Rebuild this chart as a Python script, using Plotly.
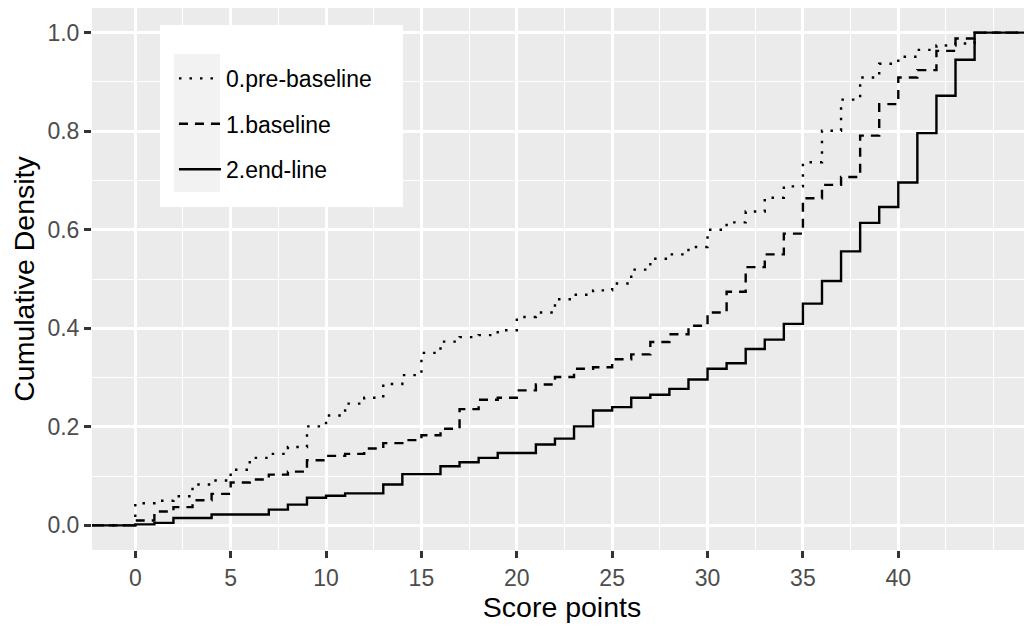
import plotly.graph_objects as go

# ---------------- data ----------------
pre_x = list(range(0, 45))
pre_y = [0.045, 0.050, 0.059, 0.083, 0.091, 0.113, 0.137, 0.145, 0.159, 0.201,
         0.223, 0.247, 0.259, 0.287, 0.305, 0.350, 0.373, 0.382, 0.386, 0.396,
         0.423, 0.432, 0.459, 0.468, 0.477, 0.491, 0.519, 0.541, 0.550, 0.565,
         0.600, 0.615, 0.637, 0.665, 0.688, 0.737, 0.801, 0.864, 0.909, 0.937,
         0.951, 0.965, 0.974, 0.978, 1.000]

base_x = list(range(0, 45))
base_y = [0.010, 0.028, 0.037, 0.051, 0.064, 0.087, 0.093, 0.103, 0.109, 0.132,
          0.141, 0.145, 0.156, 0.167, 0.173, 0.183, 0.196, 0.236, 0.255, 0.259,
          0.274, 0.286, 0.301, 0.318, 0.321, 0.337, 0.347, 0.372, 0.388, 0.405,
          0.432, 0.474, 0.524, 0.550, 0.592, 0.664, 0.691, 0.707, 0.791, 0.855,
          0.909, 0.924, 0.963, 0.988, 1.000]

end_x = [0, 1, 2, 4, 7, 8, 9, 10, 11, 13, 14, 16, 17, 18, 19, 21, 22, 23, 24, 25,
         26, 27, 28, 29, 30, 31, 32, 33, 34, 35, 36, 37, 38, 39, 40, 41, 42, 43, 44]
end_y = [0.002, 0.005, 0.015, 0.022, 0.032, 0.042, 0.056, 0.060, 0.065, 0.083,
         0.104, 0.120, 0.128, 0.137, 0.147, 0.164, 0.176, 0.201, 0.233, 0.240,
         0.259, 0.265, 0.277, 0.296, 0.318, 0.329, 0.358, 0.377, 0.409, 0.450,
         0.496, 0.556, 0.614, 0.646, 0.696, 0.796, 0.872, 0.945, 1.000]

series_names = ["0.pre-baseline", "1.baseline", "2.end-line"]
series_dash = ["2.5px,8px", "9px,7px", "solid"]

x_major = [0, 5, 10, 15, 20, 25, 30, 35, 40]
x_minor = [2.5, 7.5, 12.5, 17.5, 22.5, 27.5, 32.5, 37.5, 42.5, 45]
y_major = [0.0, 0.2, 0.4, 0.6, 0.8, 1.0]
y_minor = [0.1, 0.3, 0.5, 0.7, 0.9]

X_RANGE = [-2.27, 47.01]
Y_RANGE = [-0.05, 1.05]

FONT = "Liberation Sans, Arial, sans-serif"

fig = go.Figure()

for name, dash, xs, ys in zip(series_names, series_dash,
                              [pre_x, base_x, end_x], [pre_y, base_y, end_y]):
    # ECDF padded to -Inf (0) and +Inf (1) like stat_ecdf
    px_ = [X_RANGE[0] - 5] + list(xs) + [X_RANGE[1] + 5]
    py_ = [0.0] + list(ys) + [1.0]
    fig.add_trace(go.Scatter(
        x=px_, y=py_, mode="lines", name=name, legendgroup=name,
        line=dict(color="black", width=2.4, dash=dash, shape="hv"),
        hoverinfo="skip",
    ))

# legend background box and key background (ggplot-like)
fig.add_shape(type="rect", xref="paper", yref="paper",
              x0=0.0723, x1=0.3309, y0=0.6328, y1=0.9686,
              fillcolor="white", line=dict(width=0), layer="above")
fig.add_shape(type="rect", xref="paper", yref="paper",
              x0=0.0872, x1=0.1362, y0=0.6605, y1=0.9151,
              fillcolor="#F2F2F2", line=dict(width=0), layer="above")

axis_common = dict(
    showline=False, zeroline=False, automargin=False,
    gridcolor="white", gridwidth=2.6,
    ticks="outside", ticklen=7, tickwidth=2.6, tickcolor="#333333",
    tickfont=dict(family=FONT, size=23, color="#4D4D4D"),
)

fig.update_xaxes(
    range=X_RANGE, tickmode="array", tickvals=x_major,
    ticktext=[str(v) for v in x_major],
    minor=dict(tickmode="array", tickvals=x_minor, showgrid=True,
               gridcolor="white", gridwidth=1.3, ticks=""),
    title=dict(text="Score points", font=dict(family=FONT, size=28.5, color="black"),
               standoff=4),
    **axis_common,
)
fig.update_yaxes(
    range=Y_RANGE, tickmode="array", tickvals=y_major,
    ticktext=[f"{v:.1f}" for v in y_major],
    minor=dict(tickmode="array", tickvals=y_minor, showgrid=True,
               gridcolor="white", gridwidth=1.3, ticks=""),
    title=dict(text="Cumulative Density", font=dict(family=FONT, size=28.5, color="black"),
               standoff=4),
    **axis_common,
)

# the page adds an 8px body margin, so the figure is sized to end at the window edge
fig.update_layout(
    width=1024, height=620,
    margin=dict(l=84, r=0, t=0, b=78),
    paper_bgcolor="white", plot_bgcolor="#EBEBEB",
    showlegend=True,
    legend=dict(
        x=0.0872, y=0.9097, xanchor="left", yanchor="top",
        bgcolor="rgba(0,0,0,0)", borderwidth=0,
        font=dict(family=FONT, size=23, color="black"),
        traceorder="grouped", tracegroupgap=12.5, itemwidth=42,
    ),
)

fig.write_html("out.html")
